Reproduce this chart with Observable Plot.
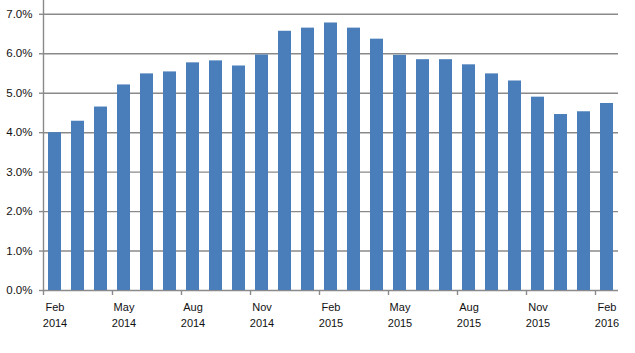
<!DOCTYPE html>
<html>
<head>
<meta charset="utf-8">
<script src="https://cdn.jsdelivr.net/npm/d3@7"></script>
<script src="https://cdn.jsdelivr.net/npm/@observablehq/plot@0.6"></script>
<style>
  html, body { margin: 0; padding: 0; background: #fff; }
  svg { display: block; }
</style>
</head>
<body>
<div id="chart"></div>
<script>
const months = ["Feb","Mar","Apr","May","Jun","Jul","Aug","Sep","Oct","Nov","Dec","Jan",
                "Feb","Mar","Apr","May","Jun","Jul","Aug","Sep","Oct","Nov","Dec","Jan","Feb"];
const years = [2014,2014,2014,2014,2014,2014,2014,2014,2014,2014,2014,2015,
               2015,2015,2015,2015,2015,2015,2015,2015,2015,2015,2015,2016,2016];
const rates = [4.00, 4.29, 4.65, 5.21, 5.49, 5.54, 5.77, 5.82, 5.69, 5.97, 6.57, 6.65,
               6.78, 6.65, 6.37, 5.96, 5.85, 5.85, 5.72, 5.49, 5.31, 4.90, 4.46, 4.53, 4.74];
const yTicks = [0, 1, 2, 3, 4, 5, 6, 7];

const data = rates.map((v, i) => ({i, v, month: months[i], year: years[i]}));
const labelled = data.filter(d => d.i % 3 === 0);
const gridColor = "#8a8a8a";
const font = "Liberation Sans, Arial, sans-serif";

const chart = Plot.plot({
  width: 635,
  height: 353,
  marginLeft: 43,
  marginRight: 17,
  marginTop: 0,
  marginBottom: 63,
  style: {fontFamily: font, fontSize: "11px", color: "#111", background: "#fff"},
  x: {type: "linear", domain: [0, data.length], axis: null, label: null},
  y: {domain: [0, 7.35], axis: null, label: null},
  marks: [
    Plot.ruleY(yTicks, {stroke: gridColor, strokeWidth: 1.4}),
    Plot.rectY(data, {x1: "i", x2: d => d.i + 1, y: "v", fill: "#4a7ebb", insetLeft: 5, insetRight: 5}),
    Plot.ruleX([0], {stroke: gridColor, strokeWidth: 1.4}),
    Plot.axisY(yTicks, {tickSize: 4, tickPadding: 7, stroke: gridColor, strokeWidth: 1.4, label: null,
      tickFormat: d => d.toFixed(1) + "%", fill: "#111", fontSize: 11.5}),
    Plot.axisX(labelled.map(d => d.i), {tickSize: 5, stroke: gridColor, strokeWidth: 1.4, label: null, tickFormat: () => ""}),
    Plot.text(labelled, {x: d => d.i + 0.5, y: 0, text: d => d.month + "\n" + d.year,
      lineAnchor: "top", dy: 10, lineHeight: 1.4, fill: "#111", fontSize: 11})
  ]
});
document.getElementById("chart").append(chart);
</script>
</body>
</html>
